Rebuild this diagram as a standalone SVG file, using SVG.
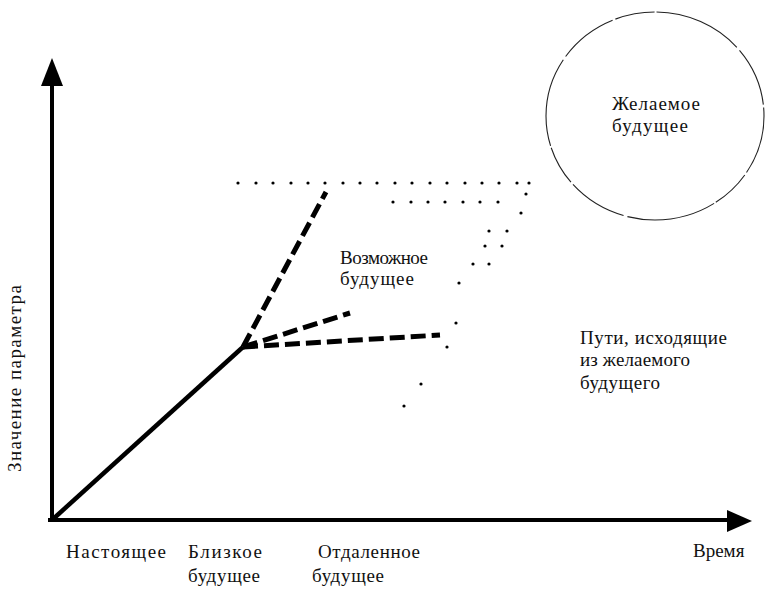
<svg xmlns="http://www.w3.org/2000/svg" width="766" height="597" viewBox="0 0 766 597">
<style>
.t{font-family:'Liberation Serif','DejaVu Serif','Times New Roman',serif;font-size:19px;fill:#111}
.axis{stroke:#000;stroke-width:4;fill:none}
.dash{stroke:#000;stroke-width:5;fill:none;stroke-dasharray:15 6}
.dot{fill:#000}
</style>
<rect width="766" height="597" fill="#fff"/>
<g id="connectors">
<line class="axis" x1="52" y1="522" x2="52" y2="80"/>
<polygon points="52,58 41,86 63,86" fill="#000"/>
<line class="axis" x1="48" y1="520" x2="730" y2="520"/>
<polygon points="752,521 727,510 727,532" fill="#000"/>
<line x1="52" y1="520" x2="243" y2="347" stroke="#000" stroke-width="4.5"/>
<line class="dash" x1="243" y1="347" x2="326" y2="192"/>
<line class="dash" x1="243" y1="347" x2="350" y2="313" stroke-dasharray="13 6"/>
<line class="dash" x1="243" y1="347" x2="440" y2="335"/>
</g>
<g id="dots">
<g class="dot">
<circle cx="238" cy="183" r="1.6"/><circle cx="256" cy="183" r="1.6"/><circle cx="273" cy="183" r="1.6"/><circle cx="291" cy="183" r="1.6"/><circle cx="308" cy="183" r="1.6"/><circle cx="325" cy="183" r="1.6"/><circle cx="343" cy="183" r="1.6"/><circle cx="360" cy="183" r="1.6"/><circle cx="377" cy="183" r="1.6"/><circle cx="395" cy="183" r="1.6"/><circle cx="412" cy="183" r="1.6"/><circle cx="430" cy="183" r="1.6"/><circle cx="447" cy="183" r="1.6"/><circle cx="465" cy="183" r="1.6"/><circle cx="482" cy="183" r="1.6"/><circle cx="499" cy="183" r="1.6"/><circle cx="517" cy="183" r="1.6"/><circle cx="529" cy="183" r="1.6"/>
<circle cx="393" cy="202" r="1.6"/><circle cx="411" cy="202" r="1.6"/><circle cx="428" cy="202" r="1.6"/><circle cx="445" cy="202" r="1.6"/><circle cx="463" cy="202" r="1.6"/><circle cx="480" cy="202" r="1.6"/><circle cx="498" cy="202" r="1.6"/>
<circle cx="526" cy="194" r="1.6"/><circle cx="521" cy="213" r="1.6"/>
<circle cx="507" cy="231" r="1.6"/><circle cx="489" cy="231" r="1.6"/>
<circle cx="502" cy="246" r="1.6"/><circle cx="485" cy="246" r="1.6"/>
<circle cx="489" cy="264" r="1.6"/><circle cx="473" cy="264" r="1.6"/>
<circle cx="459" cy="283" r="1.6"/><circle cx="456" cy="323" r="1.6"/><circle cx="447" cy="347" r="1.6"/><circle cx="421" cy="384" r="1.6"/><circle cx="404" cy="406" r="1.6"/>
</g>
</g>
<g id="desired">
<ellipse cx="655" cy="116" rx="109" ry="104" fill="none" stroke="#222" stroke-width="1.1" stroke-dasharray="60 3 40 2 90 4"/>
<text class="t" x="612" y="110" textLength="88">Желаемое</text>
<text class="t" x="612" y="132" textLength="76">будущее</text>
</g>
<g id="possible">
<text class="t" x="340" y="264" textLength="88">Возможное</text>
<text class="t" x="340" y="285" textLength="74">будущее</text>
</g>
<g id="paths">
<text class="t" x="580" y="344" textLength="147">Пути, исходящие</text>
<text class="t" x="580" y="366" textLength="110">из желаемого</text>
<text class="t" x="580" y="389" textLength="80">будущего</text>
</g>
<g id="labels">
<text class="t" x="66" y="558" textLength="100">Настоящее</text>
<text class="t" x="188" y="558" textLength="74">Близкое</text>
<text class="t" x="188" y="582" textLength="72">будущее</text>
<text class="t" x="318" y="558" textLength="102">Отдаленное</text>
<text class="t" x="312" y="582" textLength="72">будущее</text>
<text class="t" x="693" y="557">Время</text>
<text class="t" transform="translate(21,472) rotate(-90)" textLength="187">Значение параметра</text>
</g>
</svg>
